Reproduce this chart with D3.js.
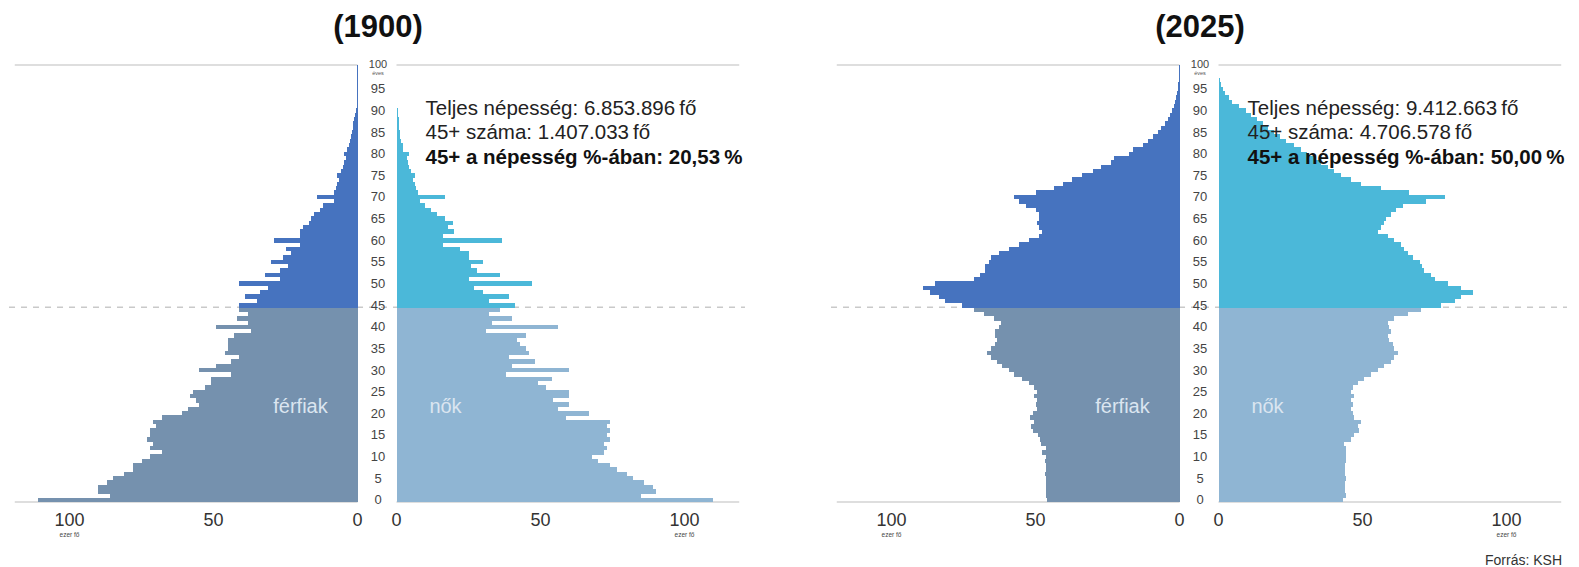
<!DOCTYPE html>
<html>
<head>
<meta charset="utf-8">
<script src="https://cdn.jsdelivr.net/npm/d3@7/dist/d3.min.js"></script>
<style>
  body { margin: 0; background: #fff; }
  svg { font-family: "Liberation Sans", Arial, sans-serif; display: block; }
</style>
</head>
<body>
<div id="chart"></div>
<script>
// =======================
// Data (ezer fő, age 0..100)
// =======================
const ages = d3.range(0, 101);

const male1900 = [
  111, 86, 90, 90, 87, 85, 81, 78, 78, 75,
  72, 68, 72, 71, 73, 72, 72, 70, 71, 68,
  61, 59, 55, 56, 58, 57, 53, 51, 51, 44,
  55, 49, 44, 41, 46, 45, 45, 45, 43, 37,
  49, 38, 42, 38, 41, 41, 35, 39, 34, 31,
  41, 27, 32, 27, 24, 30, 26, 23, 25, 20,
  29, 20, 20, 19, 17, 16, 15, 13, 12, 8,
  14, 8, 7.5, 7, 6.4, 7, 5.8, 5.2, 4.6, 4.1,
  4.6, 3.5, 3, 2.7, 2.3, 2, 1.7, 1.4, 1.1, 0.8,
  0.6, 0.3, 0.2, 0.15, 0.1, 0.08, 0.05, 0.03, 0.02, 0.01,
  0.01
];

const female1900 = [
  110, 85, 90, 89, 86, 82, 80, 76.5, 74, 70,
  68, 72, 73, 72, 74, 73, 74, 73, 74, 59,
  67, 56, 60, 54.5, 60, 60, 52, 49, 54, 38,
  60, 40, 48, 39, 46, 45, 43, 42, 45, 31,
  56, 33, 40, 32, 36, 41, 32, 39, 30, 27,
  47, 25, 36, 28, 26, 30, 25, 25, 22, 16,
  36.5, 16, 20, 18, 19.6, 17, 14, 12, 10, 8,
  17, 7.4, 6.9, 6.3, 5.7, 6.3, 5.1, 4.5, 4, 3.6,
  4.5, 2.4, 2.2, 1.6, 1.3, 1.1, 0.9, 0.8, 0.7, 0.5,
  0.4, 0.3, 0.2, 0.15, 0.1, 0.08, 0.05, 0.03, 0.02, 0.01,
  0.01
];

const male2025 = [
  45.9, 46.3, 46.5, 46.2, 46.5, 46.3, 46.6, 46.4, 46.2, 46.8,
  46.5, 47.6, 46.5, 48, 48.5, 49, 51, 51.7, 50.5, 52,
  51, 49.4, 50, 49.4, 50.5, 49.4, 50.5, 52.3, 54.6, 57.5,
  59.2, 61.5, 63.3, 65.6, 66.8, 65.6, 63.9, 63.3, 63.9, 63.9,
  62.7, 62.1, 64.5, 68, 71.4, 75.5, 81.3, 83.6, 86.5, 88.9,
  84.8, 71.4, 69.1, 67.4, 67.4, 66.2, 65.6, 62.7, 59.2, 55.7,
  52.3, 48.8, 47.6, 48.8, 49.4, 48.8, 48.8, 49.9, 53.4, 55.7,
  57.5, 49.9, 43.6, 40.6, 37.2, 33.7, 30.2, 27.3, 23.8, 22.6,
  17.4, 16.3, 12.8, 11, 9.3, 7.5, 6.4, 5.2, 4.1, 3.3,
  2.6, 2, 1.5, 1.1, 0.8, 0.6, 0.4, 0.3, 0.2, 0.1,
  0.1
];

const female2025 = [
  43.4, 44.4, 44, 43.8, 44, 44.1, 43.8, 44, 43.9, 44.2,
  44.3, 44.3, 44.3, 43.7, 46, 47.2, 48.9, 48.3, 49.5, 47.2,
  46.6, 46, 46.6, 46, 47.2, 46, 46.6, 48.3, 50.6, 53,
  55.3, 57.6, 60, 61, 62.3, 61, 60.5, 59.3, 58.8, 60,
  59.3, 58.8, 61, 65.7, 70.4, 77.3, 82, 84.3, 88.4, 84.3,
  79.7, 75, 73.9, 71.5, 70.5, 69.8, 67.5, 65.7, 64.5, 63.4,
  61, 58.8, 55.3, 56.5, 57.5, 58.2, 59.9, 61.5, 64, 72,
  78.5, 66, 56.4, 49.5, 46, 42.5, 40, 38, 35.5, 33,
  30.9, 28.5, 26.2, 23.5, 21.5, 19.3, 17.3, 15.5, 13.5, 11.4,
  9.4, 7, 4.8, 3.5, 2.4, 1.5, 0.7, 0.5, 0.3, 0.2,
  0.2
];

const years = ["(1900)", "(2025)"];
const totals = ["6.853.896", "9.412.663"];
const over45 = ["1.407.033", "4.706.578"];
const shares = ["20,53", "50,00"];

const xTicks = [0, 50, 100];
const ageTicks = d3.range(0, 101, 5);
const splitAge = 45;

// =======================
// Layout
// =======================
const width = 1579;
const height = 567;
const pxPerUnit = 2.88;
const axisMax = 119;

const colors = {
  maleOld: "#4673bf",
  femaleOld: "#4bb8d9",
  maleYoung: "#7591ae",
  femaleYoung: "#8fb5d3"
};

const svg = d3.select("#chart")
  .append("svg")
  .attr("width", width)
  .attr("height", height);

const y = d3.scaleLinear().domain([0, 101]).range([502, 65]);

const panels = [
  { title: years[0], male: male1900, female: female1900, total: totals[0], over: over45[0], share: shares[0], offset: 0 },
  { title: years[1], male: male2025, female: female2025, total: totals[1], over: over45[1], share: shares[1], offset: 822 }
];

panels.forEach(p => {
  const g = svg.append("g");
  const maleZero = 357.5 + p.offset;
  const femZero = 396.5 + p.offset;
  const mid = 378 + p.offset;

  const xM = d3.scaleLinear().domain([0, axisMax]).range([maleZero, maleZero - axisMax * pxPerUnit]);
  const xF = d3.scaleLinear().domain([0, axisMax]).range([femZero, femZero + axisMax * pxPerUnit]);

  // dashed 45 line (behind bars)
  g.append("line")
    .attr("x1", xM(121)).attr("x2", xF(121))
    .attr("y1", y(splitAge)).attr("y2", y(splitAge))
    .attr("stroke", "#c9c9c9")
    .attr("stroke-width", 1.5)
    .attr("stroke-dasharray", "6,6");

  // top and bottom rules
  [101, 0].forEach(a => {
    g.append("line")
      .attr("x1", xM(axisMax)).attr("x2", maleZero)
      .attr("y1", y(a)).attr("y2", y(a))
      .attr("stroke", "#bdbdbd").attr("stroke-width", 1);
    g.append("line")
      .attr("x1", femZero).attr("x2", xF(axisMax))
      .attr("y1", y(a)).attr("y2", y(a))
      .attr("stroke", "#bdbdbd").attr("stroke-width", 1);
  });

  // bars
  g.append("g").attr("shape-rendering", "crispEdges")
    .selectAll("rect")
    .data(ages)
    .enter()
    .append("rect")
    .attr("x", a => xM(p.male[a]))
    .attr("y", a => y(a + 1))
    .attr("width", a => maleZero - xM(p.male[a]))
    .attr("height", a => y(a) - y(a + 1) + 0.3)
    .attr("fill", a => a >= splitAge ? colors.maleOld : colors.maleYoung);

  g.append("g").attr("shape-rendering", "crispEdges")
    .selectAll("rect")
    .data(ages)
    .enter()
    .append("rect")
    .attr("x", femZero)
    .attr("y", a => y(a + 1))
    .attr("width", a => xF(p.female[a]) - femZero)
    .attr("height", a => y(a) - y(a + 1) + 0.3)
    .attr("fill", a => a >= splitAge ? colors.femaleOld : colors.femaleYoung);

  // title
  g.append("text")
    .attr("x", mid).attr("y", 37)
    .attr("text-anchor", "middle")
    .attr("font-size", 31)
    .attr("font-weight", "bold")
    .attr("fill", "#111")
    .text(p.title);

  // age labels (100 is smaller, with "éves" under it)
  g.append("g")
    .selectAll("text")
    .data(ageTicks)
    .enter()
    .append("text")
    .attr("x", mid)
    .attr("y", a => a === 100 ? 68 : y(a + 0.5) + 4.5)
    .attr("text-anchor", "middle")
    .attr("font-size", a => a === 100 ? 11 : 13)
    .attr("fill", "#444")
    .text(a => a);

  g.append("text")
    .attr("x", mid).attr("y", 75)
    .attr("text-anchor", "middle")
    .attr("font-size", 5.5)
    .attr("fill", "#555")
    .text("éves");

  // x tick labels
  const tickG = g.append("g")
    .attr("font-size", 18)
    .attr("fill", "#333")
    .attr("text-anchor", "middle");

  xTicks.forEach(t => {
    tickG.append("text").attr("x", xM(t)).attr("y", 526).text(t);
    tickG.append("text").attr("x", xF(t)).attr("y", 526).text(t);
  });

  [xM(100), xF(100)].forEach(xx => {
    g.append("text")
      .attr("x", xx).attr("y", 537)
      .attr("text-anchor", "middle")
      .attr("font-size", 6.5)
      .attr("fill", "#444")
      .text("ezer fő");
  });

  // sex labels
  g.append("text")
    .attr("x", maleZero - 57).attr("y", 413)
    .attr("text-anchor", "middle")
    .attr("font-size", 20)
    .attr("fill", "#dbe5f0")
    .text("férfiak");

  g.append("text")
    .attr("x", femZero + 49).attr("y", 413)
    .attr("text-anchor", "middle")
    .attr("font-size", 20)
    .attr("fill", "#dbe5f0")
    .text("nők");

  // annotation
  const ann = g.append("g").attr("font-size", 20.5).attr("fill", "#222");
  const ax = femZero + 29;
  ann.append("text").attr("x", ax).attr("y", 115)
    .text(`Teljes népesség: ${p.total}\u2009fő`);
  ann.append("text").attr("x", ax).attr("y", 139)
    .text(`45+ száma: ${p.over}\u2009fő`);
  ann.append("text").attr("x", ax).attr("y", 164)
    .attr("font-weight", "bold").attr("fill", "#111")
    .text(`45+ a népesség %-ában: ${p.share}\u2009%`);
});

// source
svg.append("text")
  .attr("x", 1562).attr("y", 565)
  .attr("text-anchor", "end")
  .attr("font-size", 14)
  .attr("fill", "#333")
  .text("Forrás: KSH");
</script>
</body>
</html>
